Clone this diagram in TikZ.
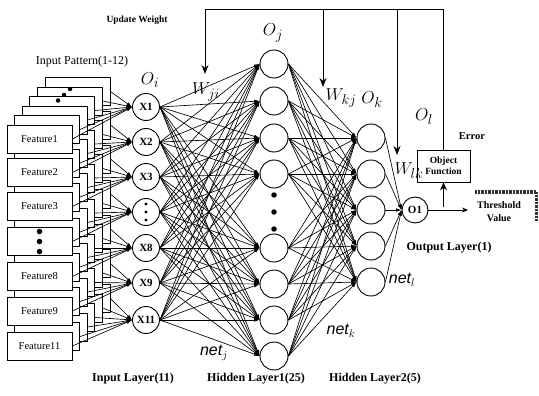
\documentclass[tikz,border=0pt]{standalone}
\usepackage{fontspec}
\setmainfont{Liberation Serif}
\setsansfont{Liberation Sans}
\usetikzlibrary{arrows.meta}
\begin{document}
\begin{tikzpicture}[x=1pt,y=-1pt,
  neuron/.style={circle,draw,line width=0.9pt,fill=white,minimum size=27pt,inner sep=0pt,font=\bfseries\fontsize{11}{11}\selectfont},
  hneuron/.style={circle,draw,line width=0.9pt,fill=white,minimum size=28pt,inner sep=0pt},
  fbox/.style={draw,line width=0.8pt,fill=white,minimum width=65pt,minimum height=28pt,inner sep=0pt,font=\fontsize{10.5}{11}\selectfont},
  conn/.style={line width=0.65pt,-{Latex[length=5.5pt,width=3.5pt]}},
  fb/.style={line width=1pt,-{Stealth[length=9pt,width=7pt]}},
  lbl/.style={font=\bfseries\fontsize{12}{13}\selectfont,inner sep=0pt},
  sym/.style={font=\fontsize{19}{19}\selectfont,inner sep=0pt},
  netl/.style={font=\sffamily\itshape\fontsize{16}{16}\selectfont,inner sep=0pt},
  dot/.style={circle,fill=black,inner sep=0pt,minimum size=#1}]
\useasboundingbox (0,0) rectangle (539,396);

% ---------- feature stack ----------
\foreach \k in {5,4,3,2,1} {
  \foreach \r/\y in {1/139,2/172.5,3/206.5,4/241.5,5/276.5,6/311,7/346} {
    \node[fbox] (f\k-\r) at ({39.5+7.6*\k},{\y-9.5*\k}) {};
  }
}
\foreach \r/\y/\t in {1/139/Feature1,2/172.5/Feature2,3/206.5/Feature3,4/241.5/{},5/276.5/Feature8,6/311/Feature9,7/346/Feature11} {
  \node[fbox] (f0-\r) at (39.5,\y) {\t};
}
\node[dot=5.5pt] (fd1) at (39.5,231.5) {};
\node[dot=5.5pt] (fd2) at (39.5,241.5) {};
\node[dot=5.5pt] (fd3) at (39.5,251.5) {};
\node[dot=4.5pt] (sd1) at (70,89) {};
\node[dot=4.5pt] (sd2) at (64,95) {};
\node[dot=4.5pt] (sd3) at (58,100.5) {};

% ---------- input layer ----------
\foreach \i/\y/\t in {1/107/X1,2/142/X2,3/177/X3,4/212/{},5/248/X8,6/283/X9,7/320/X11} {
  \node[neuron] (x\i) at (146,\y) {\t};
}
\node[dot=3.2pt] (xd1) at (146,204) {};
\node[dot=3.2pt] (xd2) at (146,212) {};
\node[dot=3.2pt] (xd3) at (146,220) {};

% ---------- hidden layer 1 ----------
\foreach \j/\y in {1/64,2/101,3/138,4/174,5/248,6/284,7/320,8/356} {
  \node[hneuron] (h\j) at (274,\y) {};
}
\node[dot=5.5pt] (hd1) at (274,195) {};
\node[dot=5.5pt] (hd2) at (274,212) {};
\node[dot=5.5pt] (hd3) at (274,229) {};

% ---------- hidden layer 2 ----------
\foreach \m/\y in {1/138,2/174,3/210,4/246,5/282} {
  \node[hneuron] (k\m) at (371,\y) {};
}

% ---------- output ----------
\node[neuron,minimum size=26pt] (o1) at (415,210) {O1};

% ---------- connections ----------
\foreach \k in {0,1,2,3,4,5} {
  \foreach \r in {1,...,7} {
    \draw[conn] (f\k-\r.east) -- (x\r.west);
  }
}
\foreach \i in {1,...,7} {
  \foreach \j in {1,...,8} {
    \draw[conn] (x\i.east) -- (h\j.west);
  }
}
\foreach \j in {1,...,8} {
  \foreach \m in {1,...,5} {
    \draw[conn] (h\j.east) -- (k\m.west);
  }
}
\foreach \m in {1,...,5} {
  \draw[conn] (k\m.east) -- (o1.west);
}

% ---------- object function & feedback ----------
\node[draw,line width=0.8pt,fill=white,minimum width=53pt,minimum height=32pt,inner sep=1pt,align=center,
      font=\bfseries\fontsize{9.5}{11}\selectfont] (obj) at (443.5,166) {Object\\Function};
\coordinate (fbE) at (443.5,10);
\coordinate (fbL) at (205,10);
\coordinate (fbM) at (323,10);
\coordinate (fbR) at (397,10);
\coordinate (aL) at (205,74);
\coordinate (aM) at (323,87);
\coordinate (aR) at (397,155);
\draw[line width=1pt] (obj.north) -- (fbE) -- (fbL);
\draw[fb] (fbL) -- (aL);
\draw[fb] (fbM) -- (aM);
\draw[fb] (fbR) -- (aR);
\coordinate (upS) at (443.5,207);
\draw[line width=1pt,-{Stealth[length=8pt,width=7pt]}] (upS) -- (obj.south);
\coordinate (thr) at (468,210);
\draw[line width=0.8pt,-{Stealth[length=6pt,width=5pt]}] (o1.east) -- (thr);
\draw[line width=3.5pt,black!80,dash pattern=on 1pt off 0.4pt] (475,192) -- (536.5,192) -- (536.5,221);

% ---------- labels ----------
\node[lbl,font=\bfseries\fontsize{9.5}{10}\selectfont] (uw) at (137,20) {Update Weight};
\node[font=\fontsize{12}{12}\selectfont,inner sep=0pt] (ip) at (82,62) {Input Pattern(1-12)};
\node[lbl,font=\bfseries\fontsize{10.5}{11}\selectfont] (err) at (472,136) {Error};
\node[lbl,align=center,font=\bfseries\fontsize{10}{13}\selectfont] (thv) at (499,212) {Threshold\\Value};
\node[lbl] (ol) at (449,248) {Output Layer(1)};
\node[lbl] (il) at (133,379) {Input Layer(11)};
\node[lbl] (h1l) at (256,379) {Hidden Layer1(25)};
\node[lbl] (h2l) at (375,379) {Hidden Layer2(5)};

\node[sym] (Oi) at (150,80) {$O_i$};
\node[sym] (Oj) at (273,33) {$O_j$};
\node[sym] (Ok) at (372,100) {$O_k$};
\node[sym] (Ol) at (424,117) {$O_l$};
\node[sym] (Wji) at (206,92) {$W_{ji}$};
\node[sym] (Wkj) at (341,98) {$W_{kj}$};
\node[sym] (Wlk) at (409,171) {$W_{lk}$};
\node[netl] (netj) at (214,353) {net$_j$};
\node[netl] (netk) at (341,331) {net$_k$};
\node[netl] (netl) at (402,280) {net$_l$};
\end{tikzpicture}
\end{document}
